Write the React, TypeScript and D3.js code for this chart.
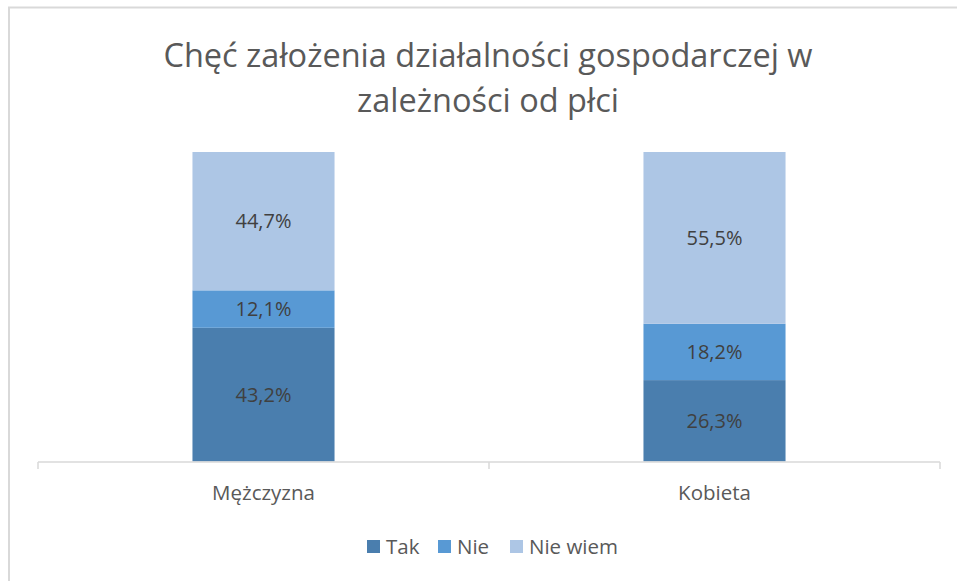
import React from "react";
import * as d3 from "d3";

const categories = ["Mężczyzna", "Kobieta"];
const seriesNames = ["Tak", "Nie", "Nie wiem"];
const takValues = [43.2, 26.3];
const nieValues = [12.1, 18.2];
const nieWiemValues = [44.7, 55.5];
const titleLines = ["Chęć założenia działalności gospodarczej w", "zależności od płci"];
const colors = ["#4a7eae", "#5899d4", "#adc6e5"];

const W = 957;
const H = 581;
const FONT = "'Open Sans', 'Noto Sans', sans-serif";

export default function App() {
  const rows = categories.map((c, i) => ({
    cat: c,
    Tak: takValues[i],
    Nie: nieValues[i],
    "Nie wiem": nieWiemValues[i],
  }));
  const stack = d3.stack<any>().keys(seriesNames)(rows);
  const x = d3.scaleBand().domain(categories).range([38, 940]).padding(0);
  const barW = x.bandwidth() * 0.315;
  const y = d3.scaleLinear().domain([0, 100]).range([461.5, 152]);
  const fmt = (v: number) => v.toFixed(1).replace(".", ",") + "%";

  const legendItems = [
    { name: seriesNames[0], x: 367 },
    { name: seriesNames[1], x: 438 },
    { name: seriesNames[2], x: 510 },
  ];

  return (
    <svg
      width={W}
      height={H}
      style={{ position: "absolute", left: 0, top: 0, background: "#fff" }}
      fontFamily={FONT}
    >
      <rect x={0} y={0} width={W} height={H} fill="#fff" />
      <path d={`M9,${H} V7.5 H${W}`} fill="none" stroke="#d9d9d9" strokeWidth={2} />
      {titleLines.map((t, i) => (
        <text
          key={i}
          x={488}
          y={67 + i * 45}
          textAnchor="middle"
          fontSize={32.5}
          fill="#595959"
        >
          {t}
        </text>
      ))}
      {stack.map((s, si) =>
        s.map((d, ci) => (
          <g key={`${si}-${ci}`}>
            <rect
              x={(x(categories[ci]) as number) + x.bandwidth() / 2 - barW / 2}
              y={y(d[1])}
              width={barW}
              height={y(d[0]) - y(d[1])}
              fill={colors[si]}
            />
            <text
              x={(x(categories[ci]) as number) + x.bandwidth() / 2}
              y={(y(d[0]) + y(d[1])) / 2}
              dy="0.35em"
              textAnchor="middle"
              fontSize={20}
              fill="#404040"
            >
              {fmt(d[1] - d[0])}
            </text>
          </g>
        ))
      )}
      <line x1={38} x2={940} y1={462} y2={462} stroke="#d9d9d9" strokeWidth={1.5} />
      {[...categories.map((c) => x(c) as number), 940].map((tx, i) => (
        <line key={i} x1={tx} x2={tx} y1={462} y2={469} stroke="#d9d9d9" strokeWidth={1.5} />
      ))}
      {categories.map((c) => (
        <text
          key={c}
          x={(x(c) as number) + x.bandwidth() / 2}
          y={500}
          textAnchor="middle"
          fontSize={20.5}
          fill="#595959"
        >
          {c}
        </text>
      ))}
      {legendItems.map((l, i) => (
        <g key={l.name}>
          <rect x={l.x} y={540} width={13} height={13} fill={colors[i]} />
          <text x={l.x + 19} y={554} fontSize={20.5} fill="#595959">
            {l.name}
          </text>
        </g>
      ))}
    </svg>
  );
}
